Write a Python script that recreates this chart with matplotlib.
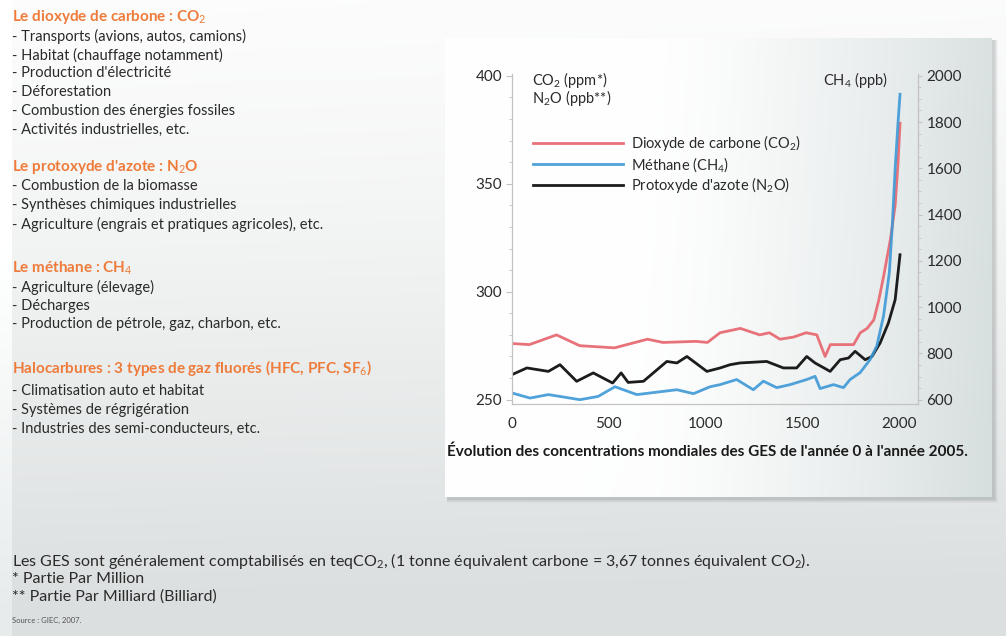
import numpy as np
import matplotlib.pyplot as plt
from matplotlib.ticker import MultipleLocator
from matplotlib.patches import Rectangle

plt.rcParams['font.family'] = ['Lato', 'DejaVu Sans']
plt.rcParams['mathtext.fontset'] = 'custom'
plt.rcParams['mathtext.rm'] = 'Lato'
plt.rcParams['mathtext.it'] = 'Lato:italic'
plt.rcParams['mathtext.bf'] = 'Lato:bold'

W, H = 1006, 636

# concentrations (GIEC) : CO2 en ppm, N2O en ppb (axe gauche), CH4 en ppb (axe droit)
co2_ans = [0, 90, 230, 350, 530, 700, 780, 950, 1010, 1075, 1180, 1280, 1330, 1385, 1455,
           1520, 1575, 1618, 1645, 1710, 1765, 1800, 1835, 1870, 1895, 1920, 1955, 1980, 1995, 2005]
co2_ppm = [276, 275.5, 280, 275, 274, 278, 276.5, 277, 276.5, 281, 283, 280, 281, 278, 279,
           281, 280, 270, 275.5, 275.5, 275.5, 281, 283, 287, 296, 307, 324, 340, 360, 378]

ch4_ans = [0, 93, 188, 351, 445, 532, 645, 783, 852, 938, 1024, 1075, 1161, 1247, 1299, 1368,
           1437, 1523, 1566, 1592, 1661, 1713, 1747, 1799, 1851, 1885, 1920, 1950, 1965, 1980, 1995, 2005]
ch4_ppb = [629, 607, 622, 600, 614, 656, 622, 636, 643, 626, 656, 665, 687, 643, 680, 652,
           665, 687, 701, 648, 665, 652, 687, 717, 774, 832, 962, 1150, 1350, 1600, 1800, 1920]

n2o_ans = [0, 77, 188, 248, 334, 420, 520, 564, 600, 679, 800, 852, 904, 1007, 1076, 1127,
           1178, 1316, 1402, 1471, 1523, 1566, 1644, 1696, 1739, 1773, 1825, 1860, 1902, 1945, 1980, 2005]
n2o_ppb = [261.6, 264.7, 263.1, 266.2, 258.5, 262.4, 257.7, 262.4, 258, 258.5, 267.7, 267, 270,
           263.1, 264.7, 266.2, 267, 267.7, 264.7, 264.7, 270, 267, 263.1, 268.5, 269.3, 272.4,
           268.5, 270, 276.2, 285.5, 296.3, 317.1]

x_ticks = [0, 500, 1000, 1500, 2000]
y_ticks_g = [250, 300, 350, 400]
y_ticks_d = [600, 800, 1000, 1200, 1400, 1600, 1800, 2000]

# colonne de gauche : (texte, ligne y en px, titre ?)
textes_gauche = [
    (r"Le dioxyde de carbone : CO$_2$", 17, True),
    ("- Transports (avions, autos, camions)", 36, False),
    ("- Habitat (chauffage notamment)", 55, False),
    ("- Production d'électricité", 73, False),
    ("- Déforestation", 92, False),
    ("- Combustion des énergies fossiles", 111, False),
    ("- Activités industrielles, etc.", 130, False),
    (r"Le protoxyde d'azote : N$_2$O", 167, True),
    ("- Combustion de la biomasse", 186, False),
    ("- Synthèses chimiques industrielles", 205, False),
    ("- Agriculture (engrais et pratiques agricoles), etc.", 224, False),
    (r"Le méthane : CH$_4$", 268, True),
    ("- Agriculture (élevage)", 287, False),
    ("- Décharges", 306, False),
    ("- Production de pétrole, gaz, charbon, etc.", 324, False),
    (r"Halocarbures : 3 types de gaz fluorés (HFC, PFC, SF$_6$)", 368, True),
    ("- Climatisation auto et habitat", 391, False),
    ("- Systèmes de régrigération", 410, False),
    ("- Industries des semi-conducteurs, etc.", 429, False),
]

notes_bas = [
    (r"Les GES sont généralement comptabilisés en teqCO$_2$, (1 tonne équivalent carbone = 3,67 tonnes équivalent CO$_2$).", 561),
    ("* Partie Par Million", 579),
    ("** Partie Par Milliard (Billiard)", 597),
]

ORANGE = '#ee7b3a'
TEXTE = '#2a2a2a'
ROUGE = '#e8727a'
BLEU = '#3d98d6'
NOIR = '#1c1c1c'
GRIS_AXE = '#c2c2c2'


def fx(x):
    return x / W


def fy(y):
    return 1 - y / H


fig = plt.figure(figsize=(W / 100, H / 100), dpi=100)

# fond dégradé de la page
fond = fig.add_axes([0, 0, 1, 1], zorder=-10)
fond.set_xlim(0, W)
fond.set_ylim(H, 0)
fond.axis('off')
gy = np.linspace(0, 1, H)[:, None]
gx = np.linspace(0, 1, W)[None, :]
haut = np.array([0.99, 0.99, 0.99])
bas = np.array([0.86, 0.875, 0.875])
t = np.clip(gy * 1.05, 0, 1) ** 1.3 + 0.04 * gx
t = np.clip(t, 0, 1)[..., None]
img = haut * (1 - t) + bas * t
img[:, :12, :] = np.clip(img[:, :12, :] + 0.05, 0, 1)
fond.imshow(img, extent=[0, W, H, 0], aspect='auto', zorder=0)

# cadre du graphique avec ombre
for i, a in enumerate([0.05, 0.07, 0.09, 0.12]):
    d = 4 - i
    fond.add_patch(Rectangle((445 + 2, 38 + 2), 547 + d, 459 + d, facecolor='#6d7475',
                             edgecolor='none', alpha=a, zorder=1))
px = np.linspace(0, 1, 547)[None, :]
py = np.linspace(0, 1, 459)[:, None]
tp = np.clip((px - 0.35) / 0.65, 0, 1) ** 1.4 * 0.9 + 0.1 * py * px
tp = np.clip(tp, 0, 1)[..., None]
cadre = np.array([1.0, 1.0, 1.0]) * (1 - tp) + np.array([0.84, 0.87, 0.87]) * tp
fond.imshow(cadre, extent=[445, 992, 497, 38], aspect='auto', zorder=2)

# axes des concentrations
ax = fig.add_axes([fx(512), fy(404), (918 - 512) / W, (404 - 74) / H])
ax.patch.set_alpha(0)
ax.set_xlim(0, 2098)
ax.set_ylim(248, 400.8)
ax2 = ax.twinx()
ax2.set_ylim(600 + (248 - 250) * 1400 / 150, 600 + (400.8 - 250) * 1400 / 150)

l_co2, = ax.plot(co2_ans, co2_ppm, color=ROUGE, lw=2.0, solid_joinstyle='round')
l_n2o, = ax.plot(n2o_ans, n2o_ppb, color=NOIR, lw=2.0, solid_joinstyle='round')
l_ch4, = ax2.plot(ch4_ans, ch4_ppb, color=BLEU, lw=2.0, solid_joinstyle='round', alpha=0.9)

for a_ in (ax, ax2):
    a_.spines['top'].set_visible(False)
    for s in ('left', 'right', 'bottom'):
        a_.spines[s].set_color(GRIS_AXE)
        a_.spines[s].set_linewidth(0.8)

ax.set_xticks(x_ticks)
ax.set_xticklabels([str(v) for v in x_ticks])
ax.tick_params(axis='x', length=0, pad=9, labelsize=11, labelcolor=TEXTE)
ax.set_yticks(y_ticks_g)
ax.yaxis.set_minor_locator(MultipleLocator(10))
ax.tick_params(axis='y', which='major', length=4, width=0.8, color=GRIS_AXE, pad=3,
               labelsize=11, labelcolor=TEXTE)
ax.tick_params(axis='y', which='minor', length=2.5, width=0.6, color=GRIS_AXE)
ax2.set_yticks(y_ticks_d)
ax2.yaxis.set_minor_locator(MultipleLocator(50))
ax2.tick_params(axis='y', which='major', length=3, width=0.8, color=GRIS_AXE, pad=3,
                labelsize=11, labelcolor=TEXTE)
ax2.tick_params(axis='y', which='minor', length=2, width=0.6, color=GRIS_AXE)

fig.text(fx(532), fy(80), r"CO$_2$ (ppm*)", fontsize=10.5, color=TEXTE, va='center')
fig.text(fx(532), fy(98), r"N$_2$O (ppb**)", fontsize=10.5, color=TEXTE, va='center')
fig.text(fx(888), fy(80), r"CH$_4$ (ppb)", fontsize=10.5, color=TEXTE, va='center', ha='right')

leg = ax.legend([l_co2, l_ch4, l_n2o],
                [r"Dioxyde de carbone (CO$_2$)", r"Méthane (CH$_4$)", r"Protoxyde d'azote (N$_2$O)"],
                loc='upper left', bbox_to_anchor=(fx(533), fy(133)),
                bbox_transform=fig.transFigure, frameon=False, fontsize=10.5,
                handlelength=6.2, handletextpad=0.55, labelspacing=0.12,
                borderpad=0, borderaxespad=0)
for txt in leg.get_texts():
    txt.set_color(TEXTE)

fig.text(fx(447), fy(452),
         "Évolution des concentrations mondiales des GES de l'année 0 à l'année 2005.",
         fontsize=11, fontweight='bold', color='#1a1a1a', va='center')

for texte, y, titre in textes_gauche:
    if titre:
        fig.text(fx(12), fy(y), texte, fontsize=11, fontweight='bold', va='center',
                 color=ORANGE)
    else:
        fig.text(fx(12), fy(y), texte, fontsize=10.5, va='center', color=TEXTE)

for texte, y in notes_bas:
    fig.text(fx(12), fy(y), texte, fontsize=11.5, va='center', color=TEXTE)
fig.text(fx(12), fy(620), "Source : GIEC, 2007.", fontsize=5.5, va='center', color='#555555')

fig.savefig('out.png', dpi=100)
